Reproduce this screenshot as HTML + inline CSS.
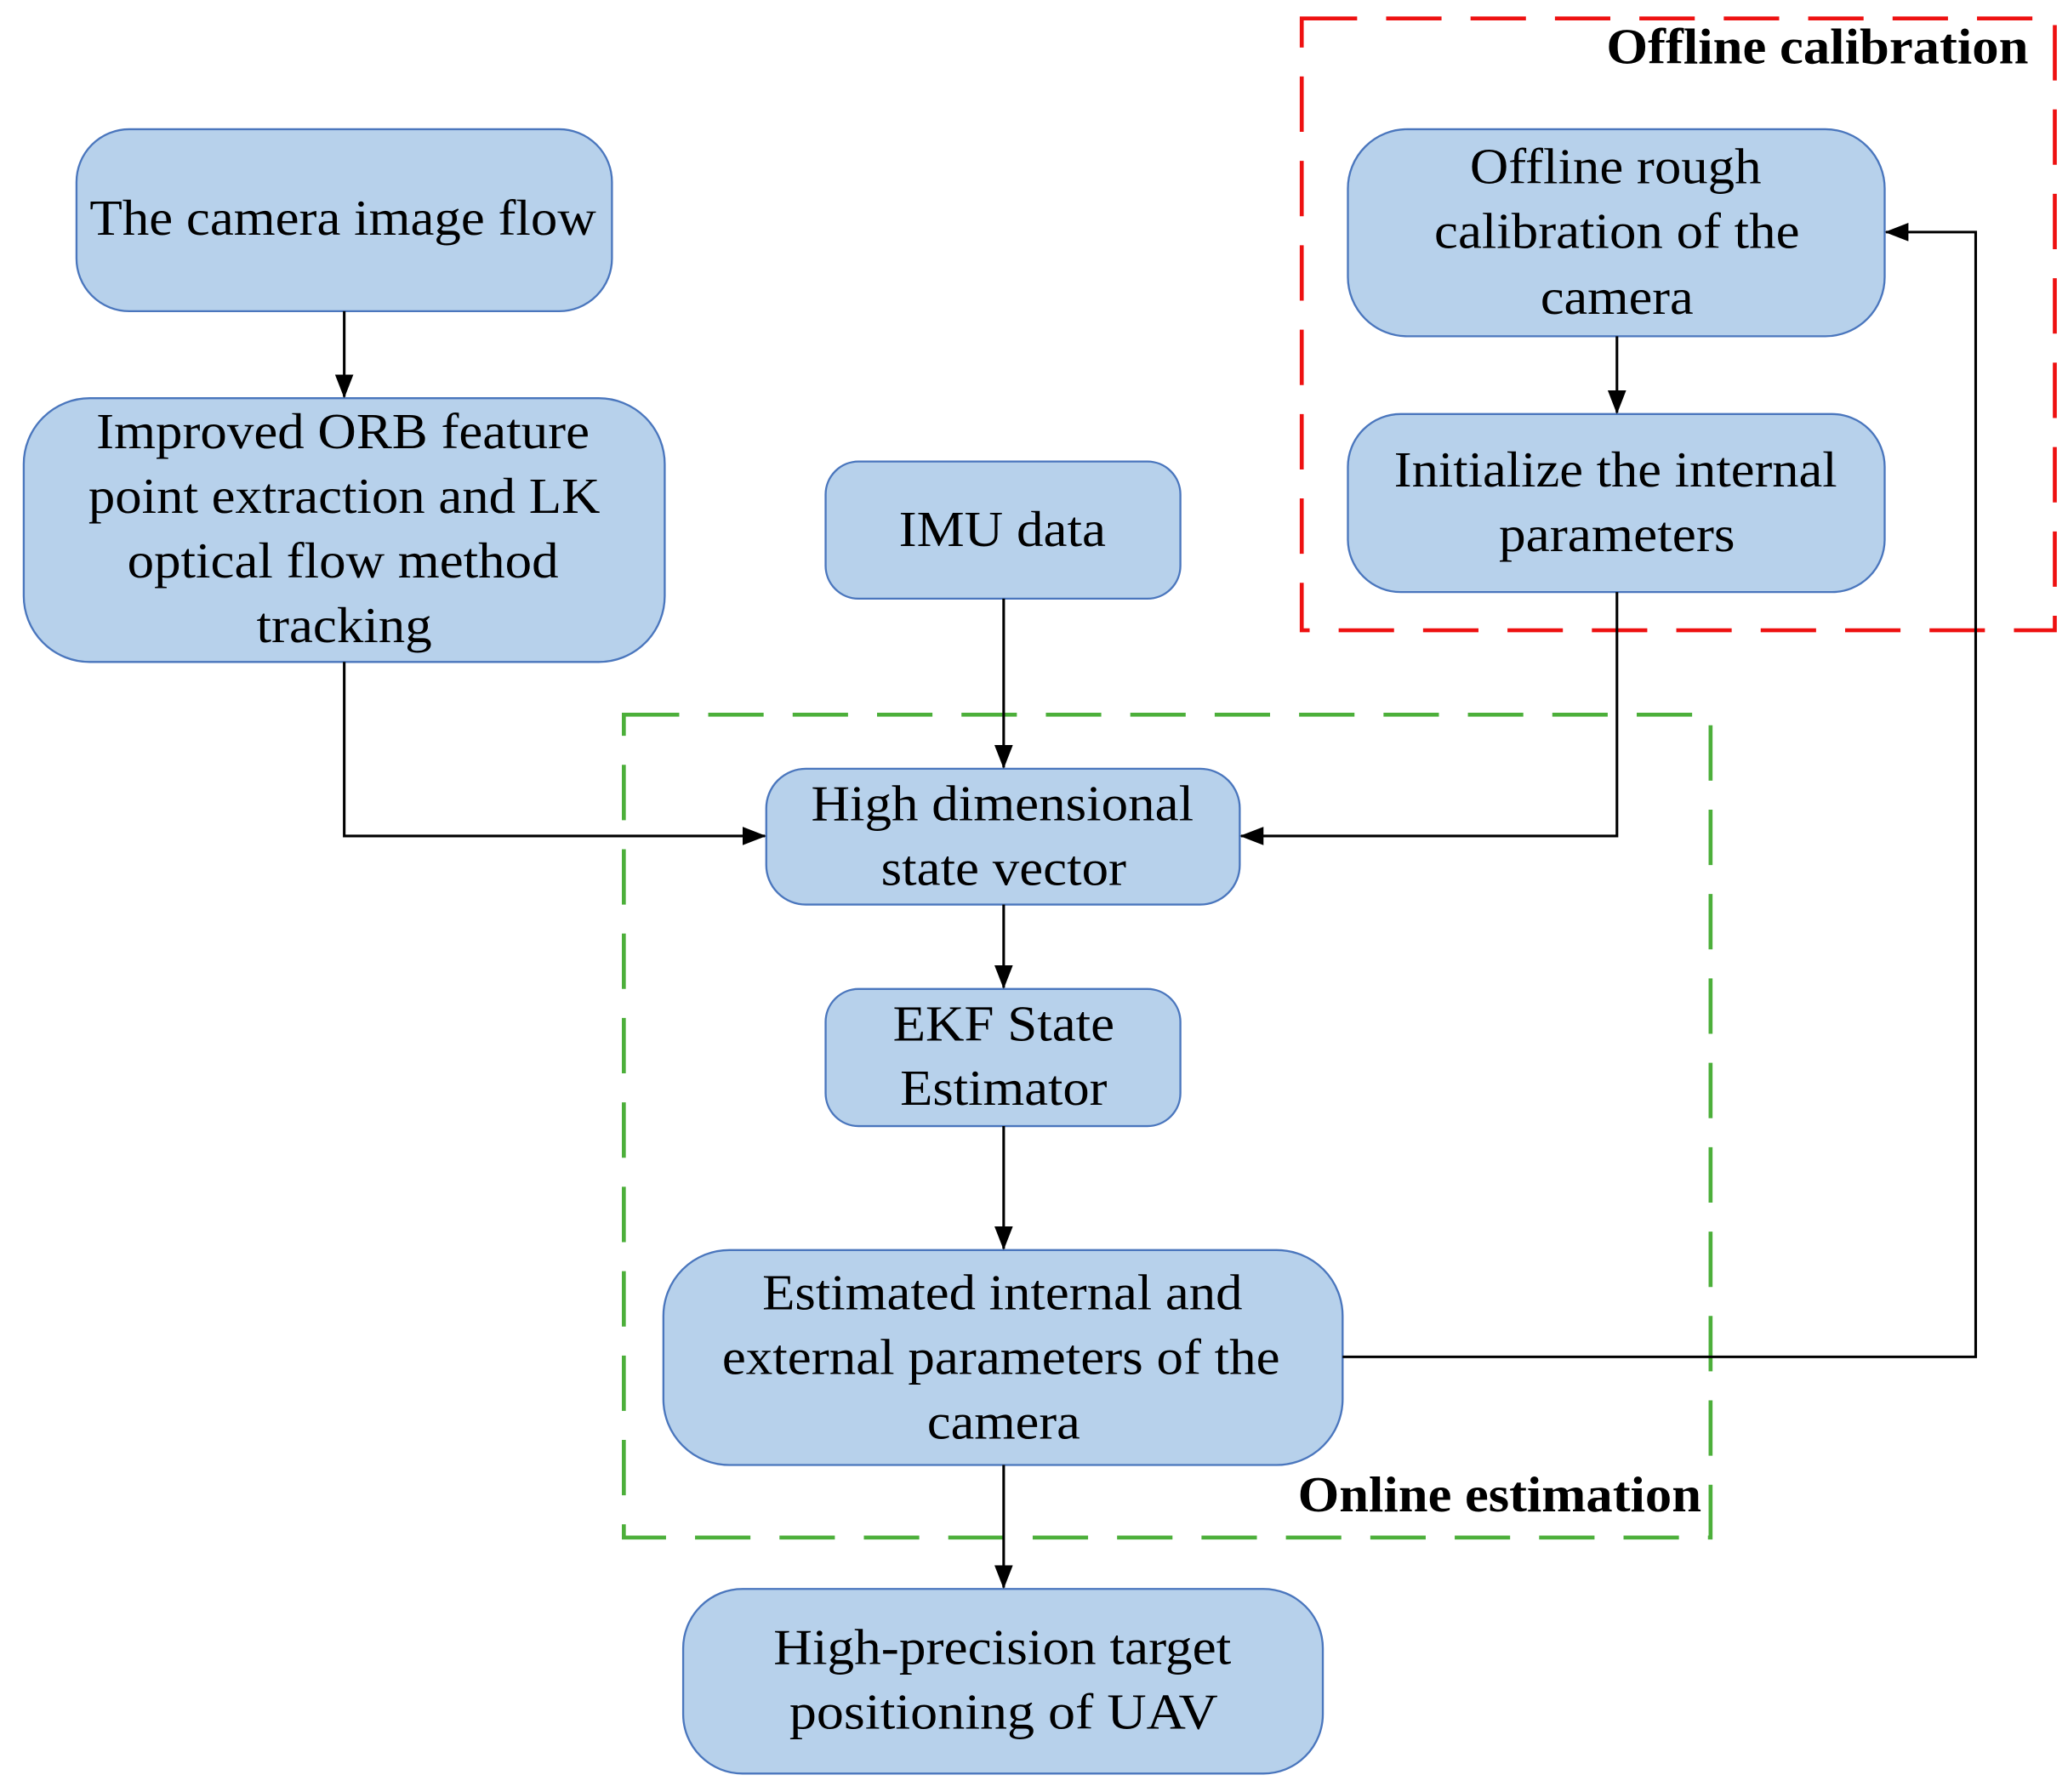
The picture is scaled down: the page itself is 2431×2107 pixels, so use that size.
<!DOCTYPE html>
<html><head><meta charset="utf-8"><style>html,body{margin:0;padding:0;background:#fff}svg{display:block}</style></head>
<body>
<svg width="2431" height="2107" viewBox="0 0 1568 1359" preserveAspectRatio="none" xmlns="http://www.w3.org/2000/svg">
<defs><marker id="a" markerWidth="18" markerHeight="14" refX="17" refY="7" orient="auto" markerUnits="userSpaceOnUse"><path d="M0,0 L18,7 L0,14 z" fill="#000"/></marker></defs>
<g fill="none" stroke-width="3" stroke-dasharray="42,22">
<rect x="987" y="14" width="571" height="464" stroke="#ee1111"/>
<rect x="473" y="542" width="824" height="624" stroke="#4caf3a"/>
</g>
<g fill="#b7d1eb" stroke="#4a76bd" stroke-width="1.5">
<rect x="58" y="98" width="406" height="138" rx="40"/>
<rect x="18" y="302" width="486" height="200" rx="50"/>
<rect x="626" y="350" width="269" height="104" rx="25"/>
<rect x="1022" y="98" width="407" height="157" rx="45"/>
<rect x="1022" y="314" width="407" height="135" rx="40"/>
<rect x="581" y="583" width="359" height="103" rx="30"/>
<rect x="626" y="750" width="269" height="104" rx="25"/>
<rect x="503" y="948" width="515" height="163" rx="50"/>
<rect x="518" y="1205" width="485" height="140" rx="45"/>
</g>
<g stroke="#000" stroke-width="2" fill="none" marker-end="url(#a)">
<path d="M261,236 V301"/>
<path d="M261,502 V634 H580"/>
<path d="M761,454 V582"/>
<path d="M1226,449 V634 H941"/>
<path d="M761,686 V749"/>
<path d="M761,854 V947"/>
<path d="M761,1111 V1204"/>
<path d="M1018,1029 H1498 V176 H1430"/>
<path d="M1226,255 V313"/>
</g>
<g font-family="Liberation Serif, serif" font-size="38" text-anchor="middle" fill="#000" lengthAdjust="spacingAndGlyphs">
<text x="260" y="178" textLength="384" lengthAdjust="spacingAndGlyphs">The camera image flow</text>
<text x="260" y="340" textLength="374" lengthAdjust="spacingAndGlyphs">Improved ORB feature</text>
<text x="261" y="389" textLength="388" lengthAdjust="spacingAndGlyphs">point extraction and LK</text>
<text x="260" y="438" textLength="327" lengthAdjust="spacingAndGlyphs">optical flow method</text>
<text x="261" y="487" textLength="133" lengthAdjust="spacingAndGlyphs">tracking</text>
<text x="760" y="414" textLength="157" lengthAdjust="spacingAndGlyphs">IMU data</text>
<text x="1225" y="139" textLength="221" lengthAdjust="spacingAndGlyphs">Offline rough</text>
<text x="1226" y="188" textLength="277" lengthAdjust="spacingAndGlyphs">calibration of the</text>
<text x="1226" y="238" textLength="116" lengthAdjust="spacingAndGlyphs">camera</text>
<text x="1225" y="369" textLength="336" lengthAdjust="spacingAndGlyphs">Initialize the internal</text>
<text x="1226" y="418" textLength="179" lengthAdjust="spacingAndGlyphs">parameters</text>
<text x="760" y="622" textLength="290" lengthAdjust="spacingAndGlyphs">High dimensional</text>
<text x="761" y="671" textLength="186" lengthAdjust="spacingAndGlyphs">state vector</text>
<text x="761" y="789" textLength="168" lengthAdjust="spacingAndGlyphs">EKF State</text>
<text x="761" y="838" textLength="157" lengthAdjust="spacingAndGlyphs">Estimator</text>
<text x="760" y="993" textLength="364" lengthAdjust="spacingAndGlyphs">Estimated internal and</text>
<text x="759" y="1042" textLength="423" lengthAdjust="spacingAndGlyphs">external parameters of the</text>
<text x="761" y="1091" textLength="116" lengthAdjust="spacingAndGlyphs">camera</text>
<text x="760" y="1262" textLength="347" lengthAdjust="spacingAndGlyphs">High-precision target</text>
<text x="761" y="1311" textLength="325" lengthAdjust="spacingAndGlyphs">positioning of UAV</text>
</g>
<g font-family="Liberation Serif, serif" font-size="38" font-weight="bold" text-anchor="middle" fill="#000">
<text x="1378" y="48" textLength="320" lengthAdjust="spacingAndGlyphs">Offline calibration</text>
<text x="1137" y="1146" textLength="306" lengthAdjust="spacingAndGlyphs">Online estimation</text>
</g>
</svg>
</body></html>
